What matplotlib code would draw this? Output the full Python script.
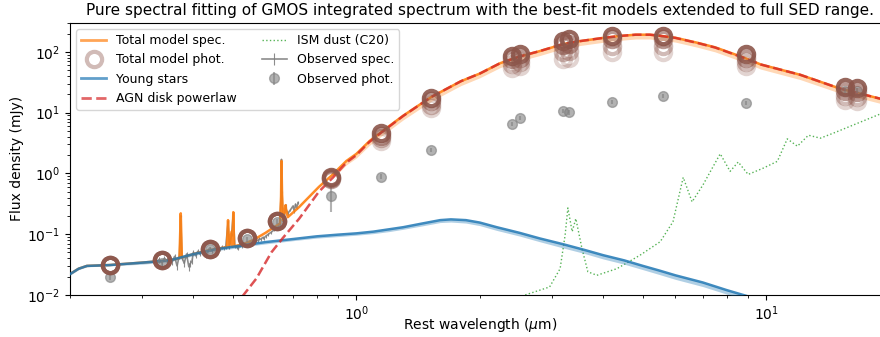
import matplotlib
matplotlib.use('Agg')
import matplotlib.pyplot as plt
from matplotlib.lines import Line2D

# wavelengths in micron, fluxes in mJy

# total model spectrum (young stars + AGN + dust, with emission lines)
total_wave = [0.20, 0.21, 0.22, 0.25, 0.30, 0.35, 0.370, 0.3727, 0.375, 0.40,
              0.43, 0.46, 0.483, 0.4861, 0.489, 0.4959, 0.498, 0.5007, 0.503, 0.53,
              0.56, 0.60, 0.64, 0.651, 0.6548, 0.6563, 0.6583, 0.662, 0.6717, 0.6731,
              0.68, 0.725, 0.81, 0.874, 0.945, 1.0, 1.076, 1.15, 1.3, 1.52,
              1.8, 2.0, 2.24, 2.5, 2.8, 3.2, 3.5, 4.0, 4.4, 4.8,
              5.2, 5.6, 6.0, 6.8, 7.5, 8.8, 9.7, 12.1, 15.1, 20.0]
total_flux = [0.022, 0.027, 0.030, 0.031, 0.034, 0.037, 0.040, 0.22, 0.041, 0.047,
              0.053, 0.058, 0.061, 0.17, 0.061, 0.11, 0.062, 0.23, 0.063, 0.069,
              0.080, 0.105, 0.14, 0.15, 0.42, 1.6, 0.48, 0.17, 0.30, 0.26,
              0.19, 0.28, 0.60, 0.95, 1.6, 2.1, 3.4, 4.8, 8.9, 18,
              33, 44, 65, 84, 103, 135, 150, 170, 183, 192,
              192, 182, 171, 141, 119, 81, 62, 42, 25, 15.5]
# lower edge of the total model band (from 0.874 um on)
total_lo = [0.82, 1.38, 1.8, 2.9, 4.1, 7.6, 15.3, 28, 37.5, 55,
            71, 87, 114, 127, 144, 155, 163, 163, 154, 145,
            119, 100, 68, 52, 35, 21, 13]

young_wave = [0.20, 0.21, 0.22, 0.25, 0.30, 0.35, 0.40, 0.45, 0.50, 0.55,
              0.60, 0.70, 0.80, 0.90, 1.0, 1.1, 1.2, 1.3, 1.45, 1.6,
              1.7, 1.85, 2.0, 2.2, 2.5, 2.8, 3.2, 3.6, 4.0, 4.5,
              5.0, 5.5, 6.0, 7.0, 8.0, 9.0, 10.0]
young_flux = [0.022, 0.027, 0.030, 0.031, 0.034, 0.037, 0.047, 0.056, 0.062, 0.068,
              0.074, 0.083, 0.092, 0.098, 0.103, 0.11, 0.12, 0.13, 0.15, 0.17,
              0.175, 0.17, 0.155, 0.13, 0.105, 0.085, 0.068, 0.055, 0.045, 0.037,
              0.030, 0.025, 0.021, 0.016, 0.012, 0.0095, 0.0078]
young_lo = [0.021, 0.026, 0.029, 0.030, 0.032, 0.035, 0.044, 0.053, 0.058, 0.064,
            0.069, 0.078, 0.086, 0.091, 0.096, 0.102, 0.11, 0.12, 0.137, 0.155,
            0.158, 0.152, 0.138, 0.115, 0.093, 0.075, 0.059, 0.048, 0.039, 0.032,
            0.026, 0.0215, 0.018, 0.0137, 0.0103, 0.0081, 0.0066]

agn_wave = [0.50, 0.526, 0.57, 0.62, 0.66, 0.725, 0.81, 0.874, 0.945, 1.0,
            1.076, 1.15, 1.3, 1.52, 1.8, 2.0, 2.24, 2.5, 2.8, 3.2,
            3.5, 4.0, 4.4, 4.8, 5.2, 5.6, 6.0, 6.8, 7.5, 8.8,
            9.7, 12.1, 15.1, 20.0]
agn_flux = [0.0065, 0.0093, 0.0186, 0.05, 0.085, 0.18, 0.5, 0.84, 1.5, 2.0,
            3.3, 4.7, 8.8, 18, 33, 44, 65, 84, 103, 135,
            150, 170, 183, 192, 192, 181, 170, 140, 118, 80,
            62, 42, 25, 15.5]

dust_wave = [2.2, 2.5, 2.96, 3.14, 3.23, 3.28, 3.36, 3.43, 3.55, 3.67,
             3.86, 4.32, 4.92, 5.51, 5.92, 6.27, 6.59, 7.01, 7.38, 7.72,
             8.16, 8.54, 9.03, 9.83, 10.64, 11.25, 11.91, 12.67, 13.55, 14.58,
             20.0]
dust_flux = [0.0075, 0.0093, 0.0135, 0.027, 0.097, 0.27, 0.11, 0.18, 0.058, 0.024,
             0.021, 0.027, 0.045, 0.075, 0.16, 0.86, 0.34, 0.65, 1.22, 2.1,
             1.08, 1.54, 0.96, 1.22, 1.58, 3.7, 2.8, 4.25, 3.8, 4.6,
             11.0]

# GMOS spectrum
obs_spec_wave = [0.325, 0.330, 0.335, 0.340, 0.345, 0.350, 0.355, 0.360, 0.365, 0.370,
                 0.3727, 0.375, 0.380, 0.385, 0.390, 0.3934, 0.397, 0.400, 0.405, 0.410,
                 0.415, 0.420, 0.425, 0.430, 0.435, 0.440, 0.445, 0.450, 0.455, 0.460,
                 0.465, 0.470, 0.475, 0.480, 0.4861, 0.490, 0.4959, 0.5007, 0.505, 0.510,
                 0.515, 0.520, 0.525, 0.530, 0.535, 0.540, 0.545, 0.550, 0.555, 0.560,
                 0.565, 0.570, 0.575, 0.580, 0.585, 0.590, 0.595, 0.600, 0.610, 0.620,
                 0.630, 0.640, 0.645, 0.650, 0.6548, 0.6563, 0.6583, 0.662, 0.667, 0.6717,
                 0.6731, 0.680, 0.690, 0.700, 0.705, 0.710, 0.715, 0.720]
obs_spec_flux = [0.036, 0.038, 0.034, 0.040, 0.037, 0.041, 0.035, 0.043, 0.030, 0.045,
                 0.20, 0.042, 0.033, 0.047, 0.029, 0.033, 0.036, 0.050, 0.044, 0.052,
                 0.047, 0.054, 0.049, 0.045, 0.055, 0.057, 0.052, 0.058, 0.055, 0.060,
                 0.057, 0.061, 0.059, 0.062, 0.16, 0.060, 0.10, 0.22, 0.063, 0.061,
                 0.058, 0.066, 0.064, 0.069, 0.067, 0.071, 0.069, 0.074, 0.072, 0.077,
                 0.075, 0.080, 0.078, 0.084, 0.082, 0.088, 0.086, 0.092, 0.100, 0.108,
                 0.118, 0.128, 0.135, 0.145, 0.42, 1.7, 0.5, 0.16, 0.19, 0.30,
                 0.26, 0.22, 0.25, 0.29, 0.24, 0.31, 0.27, 0.33]
obs_spec_err = [0.004, 0.004, 0.004, 0.004, 0.004, 0.004, 0.004, 0.004, 0.004, 0.004,
                0.01, 0.004, 0.004, 0.004, 0.004, 0.004, 0.004, 0.004, 0.004, 0.004,
                0.004, 0.004, 0.004, 0.004, 0.004, 0.004, 0.004, 0.004, 0.004, 0.004,
                0.004, 0.004, 0.004, 0.004, 0.01, 0.004, 0.006, 0.01, 0.004, 0.004,
                0.004, 0.004, 0.004, 0.004, 0.004, 0.004, 0.004, 0.005, 0.005, 0.005,
                0.005, 0.005, 0.005, 0.005, 0.005, 0.005, 0.005, 0.006, 0.006, 0.006,
                0.007, 0.007, 0.008, 0.008, 0.02, 0.05, 0.02, 0.01, 0.01, 0.015,
                0.015, 0.012, 0.012, 0.015, 0.015, 0.015, 0.015, 0.02]

# photometry
phot_wave = [0.25, 0.335, 0.44, 0.54, 0.64, 0.867, 1.15, 1.52, 2.40, 2.50,
             3.20, 3.30, 4.20, 5.60, 8.9, 15.6, 16.6]
phot_flux = [0.0195, 0.033, 0.057, 0.082, 0.16, 0.43, 0.88, 2.45, 6.5, 8.2,
             10.5, 10.1, 15.1, 18.8, 14.6, 23, 23]
phot_err = [0.002, 0.003, 0.005, 0.007, 0.015, 0.2, 0.08, 0.2, 0.5, 0.7,
            0.8, 0.8, 1.2, 1.5, 1.2, 2, 2]

# model photometry from several posterior draws (darkest first)
model_phot_a = [0.031, 0.037, 0.058, 0.085, 0.165, 0.86, 4.6, 17.6, 86, 91,
                151, 160, 184, 184, 91, 26, 25]
model_phot_b = [0.031, 0.037, 0.058, 0.085, 0.165, 0.84, 4.2, 15.5, 75, 80,
                128, 135, 160, 160, 80, 23, 22]
model_phot_c = [0.031, 0.037, 0.058, 0.085, 0.165, 0.82, 3.8, 13.5, 64, 68,
                100, 105, 125, 125, 68, 19, 18]
model_phot_d = [0.031, 0.037, 0.058, 0.085, 0.165, 0.80, 3.4, 12.0, 55, 58,
                77, 80, 98, 98, 58, 16, 15.5]

fig, ax = plt.subplots(figsize=(8.8, 3.37), dpi=100)
fig.subplots_adjust(left=0.0795, right=1.011, bottom=0.125, top=0.932)

obs_spec = ax.errorbar(obs_spec_wave, obs_spec_flux, yerr=obs_spec_err, color='grey',
                       lw=1.2, elinewidth=0.8, alpha=0.9, zorder=1)
ax.fill_between(total_wave[33:], total_lo, total_flux[33:], color='tab:orange',
                alpha=0.3, lw=0, zorder=2)
ax.plot(total_wave, total_flux, color='tab:orange', lw=1.8, alpha=0.9, zorder=2)
ax.fill_between(young_wave, young_lo, young_flux, color='tab:blue', alpha=0.35,
                lw=0, zorder=3)
ax.plot(young_wave, young_flux, color='tab:blue', lw=1.8, alpha=0.85, zorder=3)
ax.plot(agn_wave, agn_flux, color='tab:red', ls='--', lw=1.8, alpha=0.8, zorder=4)
ax.plot(dust_wave, dust_flux, color='tab:green', ls=':', lw=1, alpha=0.8, zorder=2)

obs_phot = ax.errorbar(phot_wave, phot_flux, yerr=phot_err, fmt='o', color='grey',
                       ms=7, alpha=0.6, zorder=5)
for vals, a in zip([model_phot_d, model_phot_c, model_phot_b, model_phot_a],
                   [0.25, 0.4, 0.6, 0.9]):
    ax.plot(phot_wave, vals, 'o', mfc='none', mec='tab:brown', ms=11, mew=3,
            alpha=a, zorder=6)

ax.set_xscale('log')
ax.set_yscale('log')
ax.set_xlim(0.2, 20)
ax.set_ylim(0.01, 300)
ax.set_xlabel(r'Rest wavelength ($\mu$m)', labelpad=-5)
ax.set_ylabel('Flux density (mJy)', labelpad=2)
ax.set_title('Pure spectral fitting of GMOS integrated spectrum with the best-fit '
             'models extended to full SED range.', fontsize=11)

handles = [Line2D([], [], color='tab:orange', lw=2, alpha=0.7),
           Line2D([], [], ls='none', marker='o', mfc='none', mec='tab:brown',
                  ms=11, mew=3, alpha=0.4),
           Line2D([], [], color='tab:blue', lw=2, alpha=0.7),
           Line2D([], [], color='tab:red', lw=2, ls='--', alpha=0.7),
           Line2D([], [], color='tab:green', lw=1, ls=':', alpha=0.8),
           obs_spec, obs_phot]
labels = ['Total model spec.', 'Total model phot.', 'Young stars',
          'AGN disk powerlaw', 'ISM dust (C20)', 'Observed spec.', 'Observed phot.']
ax.legend(handles, labels, ncol=2, loc='upper left', fontsize=9)

plt.savefig('out.png')
